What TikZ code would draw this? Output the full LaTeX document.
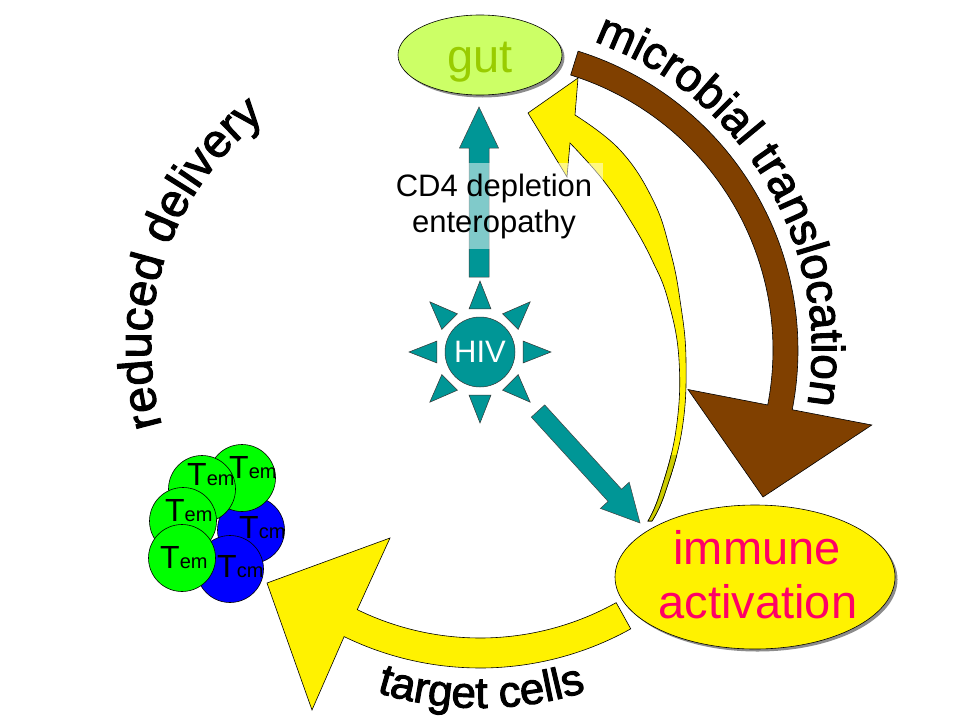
\documentclass[tikz,border=0pt]{standalone}
\usepackage{fontspec}
\setmainfont{Liberation Sans}
\newfontfamily\wafont{Liberation Sans}[FakeBold=2.2]
\usetikzlibrary{shapes.geometric,shadows,decorations.text,calc}
\definecolor{hivteal}{RGB}{0,150,150}
\definecolor{brownarr}{RGB}{128,64,0}
\definecolor{gutfill}{RGB}{204,255,102}
\definecolor{guttext}{RGB}{153,204,0}
\definecolor{immtext}{RGB}{255,0,102}
\definecolor{bandolive}{RGB}{204,204,0}
\definecolor{tgreen}{RGB}{0,255,0}
\definecolor{tblue}{RGB}{0,0,255}
\newcommand\thinbandpath{plot[smooth, tension=0.7] coordinates {(652,521) (665,493) (682,430) (686,360) (680,300) (670,250) (653,200) (620,150) (575,115)} -- (578,78) -- (528,113) -- (567,177) -- plot[smooth, tension=0.7] coordinates {(570,143) (603,180) (630,220) (652,260) (668,300) (679,360) (676,430) (660,493) (648,521)} -- cycle}
\newcommand\Tsub[1]{{\fontsize{32}{32}\selectfont T}{\fontsize{20}{20}\selectfont #1}}
\tikzset{
  outline/.style={draw=black, line width=0.6pt},
  tcell/.style={circle, outline, inner sep=0, minimum size=67pt},
  tlabel/.style={anchor=base west, inner sep=0},
  shadowed/.style={drop shadow={shadow xshift=2.5pt, shadow yshift=-2.5pt, opacity=0.45, fill=black}},
  curvedtext/.style 2 args={decorate, decoration={text along path,
      text={|\wafont\fontsize{#1}{#1}\selectfont|#2}, text align=center}}
}
\begin{document}
\begin{tikzpicture}[x=1pt,y=-1pt]
\useasboundingbox (0,0) rectangle (960,720);
\fill[white] (0,0) rectangle (960,720);

% brown arrow: microbial translocation
\fill[brownarr, outline]
  plot[domain=-72.7:11, samples=60] ({485+313*cos(\x)},{350+313*sin(\x)})
  -- (871.8,425) -- (763,497) -- (688,389.5)
  -- plot[domain=11:-72.7, samples=60] ({485+288*cos(\x)},{350+288*sin(\x)})
  -- cycle;

% thin yellow arrow from immune activation to gut
\fill[yellow, outline] \thinbandpath;
\begin{scope}
  \clip (600,455) rectangle (720,530);
  \fill[bandolive, outline] \thinbandpath;
\end{scope}

% teal arrow up to gut
\fill[hivteal, draw=black!75, line width=0.5pt]
  (469,277) -- (469,148) -- (459.5,148) -- (479,107) -- (498.5,148) -- (489,148) -- (489,277) -- cycle;

% label box
\node[fill=white, fill opacity=0.5, text opacity=1, minimum width=218pt, minimum height=86pt,
      inner sep=0, align=center, font=\fontsize{31}{36}\selectfont] (cd4) at (494,206)
      {CD4 depletion\\enteropathy};

% gut
\node[ellipse, fill=gutfill, outline, minimum width=164pt, minimum height=80pt, inner sep=0, shadowed] (gut) at (480,55) {};
\node[font=\fontsize{47}{47}\selectfont, text=guttext, anchor=base, inner sep=0] (gutlabel) at (480,72) {gut};

% HIV
\node[circle, fill=hivteal, draw=black!80, line width=0.5pt, minimum size=70pt, inner sep=0,
      text=white, font=\fontsize{31}{31}\selectfont] (hiv) at (480,352) {HIV};
\foreach \a in {0,45,...,315}
  \fill[hivteal, draw=black!80, line width=0.5pt]
    ($(hiv.center)+({\a+14.35}:44.4)$) -- ($(hiv.center)+({\a-14.35}:44.4)$) -- ($(hiv.center)+(\a:71)$) -- cycle;

% teal arrow HIV -> immune activation
\fill[hivteal, draw=black!75, line width=0.5pt]
  (531.3,417.1) -- (608.1,501.4) -- (600.4,508.4) -- (640,523) -- (629.2,482.2) -- (621.5,489.2) -- (544.7,404.9) -- cycle;

% yellow arrow: target cells
\fill[yellow, outline]
  plot[domain=60.9:116, samples=50] ({480+280*cos(\x)},{358+280*sin(\x)})
  -- (390,538) -- (267,583) -- (312,710)
  -- plot[domain=116:60.9, samples=50] ({480+310*cos(\x)},{358+310*sin(\x)})
  -- cycle;

% immune activation
\node[ellipse, fill=yellow, outline, minimum width=280pt, minimum height=144pt, inner sep=0, shadowed] (imm) at (755,577) {};
\node[font=\fontsize{47}{47}\selectfont, text=immtext, anchor=base, inner sep=0] (immA) at (757,564) {immune};
\node[font=\fontsize{47}{47}\selectfont, text=immtext, anchor=base, inner sep=0] (immB) at (758,618) {activation};

% T cells
\node[tcell, fill=tblue] (tcm1) at (251,530) {};
\node[tlabel] (tcm1l) at (239,538) {\Tsub{cm}};
\node[tcell, fill=tblue] (tcm2) at (230,569) {};
\node[tlabel] (tcm2l) at (217,577) {\Tsub{cm}};
\node[tcell, fill=tgreen] (tem1) at (242,478) {};
\node[tlabel] (tem1l) at (229,478) {\Tsub{em}};
\node[tcell, fill=tgreen] (tem2) at (202,489) {};
\node[tlabel] (tem2l) at (187,485) {\Tsub{em}};
\node[tcell, fill=tgreen] (tem3) at (183,521) {};
\node[tlabel] (tem3l) at (165,521) {\Tsub{em}};
\node[tcell, fill=tgreen] (tem4) at (182,558) {};
\node[tlabel] (tem4l) at (160,568) {\Tsub{em}};

% curved word-art labels
\path[curvedtext={46}{microbial translocation}]
  plot[domain=-71:10, samples=90] ({485+327*cos(\x)},{350+327*sin(\x)});
\path[curvedtext={47}{reduced delivery}]
  plot[domain=163:234, samples=90] ({439+288*cos(\x)},{347+288*sin(\x)});
\path[curvedtext={44}{target cells}]
  plot[domain=107.5:72, samples=60] ({480+350*cos(\x)},{358+350*sin(\x)});
\end{tikzpicture}
\end{document}
